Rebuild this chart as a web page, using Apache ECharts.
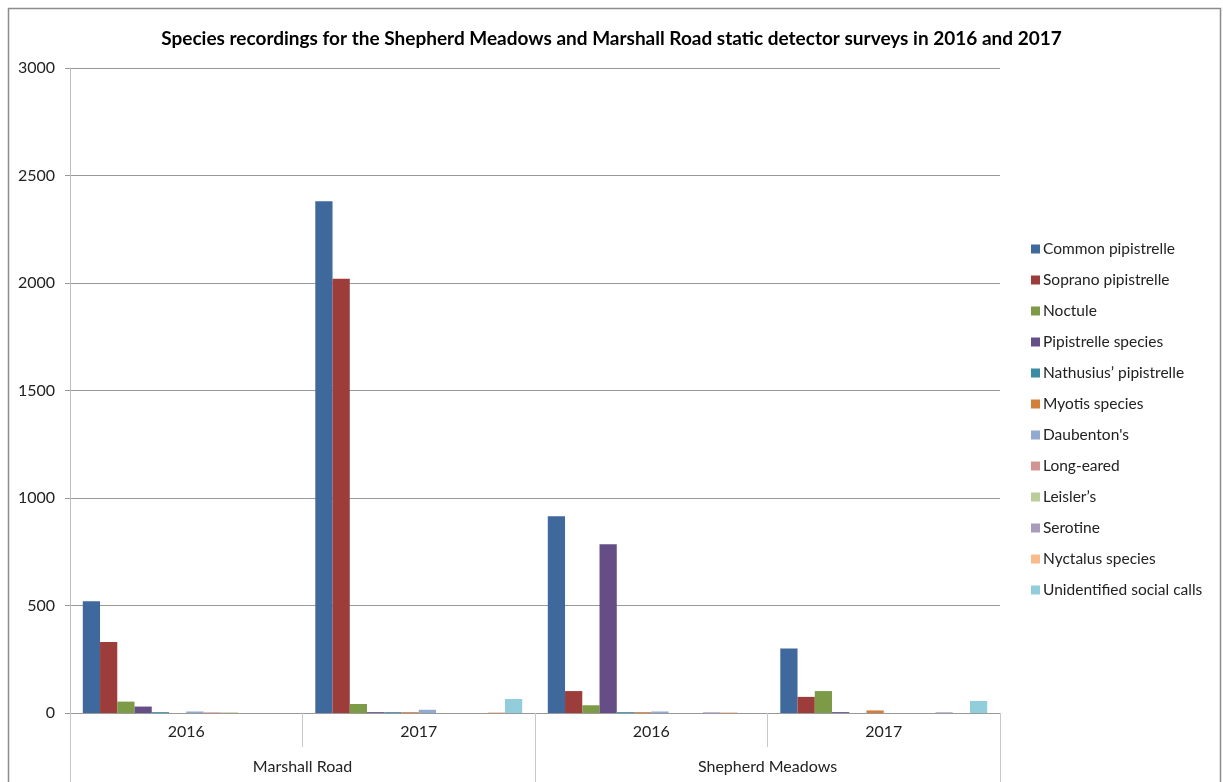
<!DOCTYPE html>
<html>
<head>
<meta charset="utf-8">
<script src="https://cdn.jsdelivr.net/npm/echarts@6/dist/echarts.min.js"></script>
<style>
html,body{margin:0;padding:0;background:#fff;}
#chart{width:1223px;height:782px;}
</style>
</head>
<body>
<div id="chart"></div>
<script>
const titleText = 'Species recordings for the Shepherd Meadows and Marshall Road static detector surveys in 2016 and 2017';
const years = ['2016', '2017', '2016', '2017'];
const sites = ['Marshall Road', 'Shepherd Meadows'];
const yTicks = { min: 0, max: 3000, interval: 500 };

const seriesNames = [
  'Common pipistrelle', 'Soprano pipistrelle', 'Noctule', 'Pipistrelle species',
  'Nathusius\u2019 pipistrelle', 'Myotis species', "Daubenton's", 'Long-eared',
  'Leisler\u2019s', 'Serotine', 'Nyctalus species', 'Unidentified social calls'
];
// values per series: [Marshall 2016, Marshall 2017, Shepherd 2016, Shepherd 2017]
const commonPip     = [520, 2380, 915, 300];
const sopranoPip    = [330, 2020, 102, 75];
const noctule       = [53, 42, 36, 102];
const pipSpecies    = [30, 4, 785, 4];
const nathusius     = [4, 4, 4, 0];
const myotis        = [0, 4, 4, 12];
const daubentons    = [7, 15, 7, 0];
const longEared     = [3, 0, 0, 0];
const leislers      = [3, 0, 0, 0];
const serotine      = [0, 0, 3, 3];
const nyctalus      = [0, 3, 3, 0];
const unidentified  = [0, 65, 0, 56];

const seriesValues = [commonPip, sopranoPip, noctule, pipSpecies, nathusius, myotis,
  daubentons, longEared, leislers, serotine, nyctalus, unidentified];
const colors = ['#3F689C', '#9C3D3B', '#7D9A46', '#654E85', '#3A8CA5', '#D37F3A',
  '#93A9CF', '#D39594', '#BBCD98', '#A99BBD', '#F9BB8B', '#92CDDC'];

const FONT = 'Lato, "Open Sans", sans-serif';
const chart = echarts.init(document.getElementById('chart'), null, { renderer: 'canvas' });
chart.setOption({
  animation: false,
  backgroundColor: '#fff',
  color: colors,
  title: {
    text: titleText,
    left: 'center',
    top: 24,
    textStyle: { fontFamily: FONT, fontWeight: 'bold', fontSize: 19, color: '#000' }
  },
  graphic: [{
    type: 'rect',
    shape: { x: 8.5, y: 8.5, width: 1212, height: 800 },
    style: { fill: 'none', stroke: '#8c8c8c', lineWidth: 1.5 },
    silent: true
  }],
  legend: {
    orient: 'vertical',
    left: 1026,
    top: 236,
    itemWidth: 9,
    itemHeight: 9,
    itemGap: 15,
    icon: 'rect',
    textStyle: { fontFamily: FONT, fontSize: 15.5, color: '#222', padding: [0, 0, 0, -2] },
    data: seriesNames
  },
  grid: { left: 70, right: 223, top: 68, bottom: 69, containLabel: false },
  xAxis: [{
    type: 'category',
    data: years,
    position: 'bottom',
    axisLine: { show: true, lineStyle: { color: '#999', width: 1 } },
    axisTick: { show: true, interval: 0, length: 34, lineStyle: { color: '#c8c8c8' } },
    axisLabel: { fontFamily: FONT, fontSize: 16, color: '#222', margin: 11 }
  }, {
    type: 'category',
    data: sites,
    position: 'bottom',
    offset: 34,
    axisLine: { show: false },
    axisTick: { show: true, interval: 0, length: 35, lineStyle: { color: '#c8c8c8' } },
    axisLabel: { fontFamily: FONT, fontSize: 16, color: '#222', margin: 12 }
  }],
  yAxis: {
    type: 'value',
    min: yTicks.min,
    max: yTicks.max,
    interval: yTicks.interval,
    axisLine: { show: true, lineStyle: { color: '#bdbdbd' } },
    axisTick: { show: true, length: 5, lineStyle: { color: '#999' } },
    axisLabel: { fontFamily: FONT, fontSize: 16, color: '#222', margin: 15, formatter: v => String(v) },
    splitLine: { show: true, lineStyle: { color: '#999', width: 1 } }
  },
  series: seriesNames.map((name, i) => ({
    name: name,
    type: 'bar',
    xAxisIndex: 0,
    data: seriesValues[i],
    barGap: '0%',
    barCategoryGap: '11%',
    itemStyle: { color: colors[i] }
  }))
});
</script>
</body>
</html>
